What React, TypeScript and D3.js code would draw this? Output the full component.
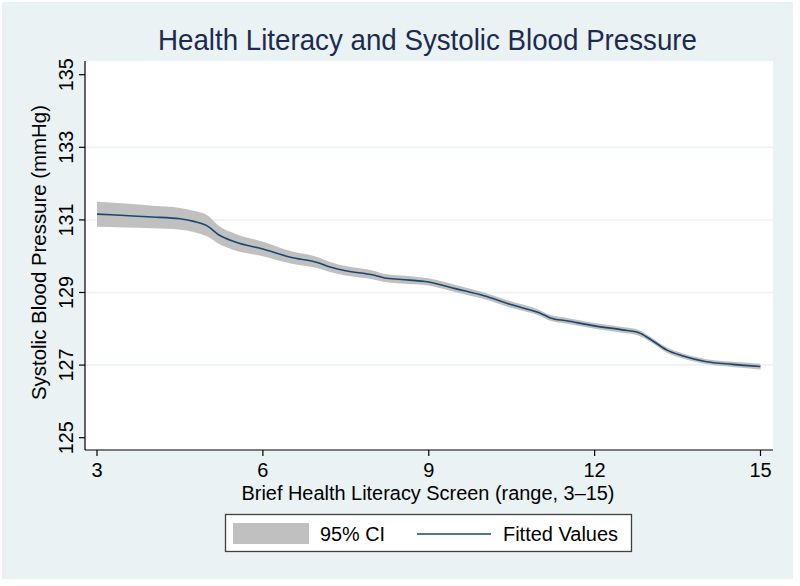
import React from "react";
import * as d3 from "d3";

const bhls = [3, 3.5, 4, 4.5, 4.75, 5, 5.2, 5.5, 6, 6.5, 7, 7.2, 7.5, 8, 8.2, 8.5, 9, 9.5, 10, 10.5, 11, 11.2, 11.5, 12, 12.5, 12.8, 13, 13.3, 13.6, 14, 14.5, 15];
const fitted = [131.16, 131.12, 131.08, 131.03, 130.96, 130.83, 130.59, 130.39, 130.2, 129.97, 129.82, 129.71, 129.6, 129.48, 129.4, 129.36, 129.29, 129.1, 128.91, 128.66, 128.44, 128.3, 128.22, 128.08, 127.97, 127.89, 127.72, 127.42, 127.25, 127.1, 127.02, 126.96];
const ciLower = [130.81, 130.79, 130.77, 130.73, 130.67, 130.54, 130.34, 130.16, 130.0, 129.8, 129.67, 129.57, 129.47, 129.36, 129.29, 129.25, 129.19, 129.0, 128.82, 128.57, 128.36, 128.22, 128.14, 128.0, 127.89, 127.81, 127.65, 127.35, 127.18, 127.03, 126.95, 126.88];
const ciUpper = [131.5, 131.45, 131.39, 131.33, 131.25, 131.12, 130.84, 130.62, 130.4, 130.14, 129.97, 129.85, 129.73, 129.6, 129.51, 129.47, 129.39, 129.2, 129.0, 128.75, 128.52, 128.38, 128.3, 128.16, 128.05, 127.97, 127.79, 127.49, 127.32, 127.17, 127.09, 127.04];
const xTicks = [3, 6, 9, 12, 15];
const yTicks = [125, 127, 129, 131, 133, 135];
const gridTicks = [127, 129, 131, 133];

const titleText = "Health Literacy and Systolic Blood Pressure";
const xTitle = "Brief Health Literacy Screen (range, 3\u201315)";
const yTitle = "Systolic Blood Pressure (mmHg)";
const legendLabels = ["95% CI", "Fitted Values"];

const BG = "#eaf2f3";
const NAVY = "#1a476f";
const BAND = "#c0c0c0";
const FONT = "'Liberation Sans', Arial, Helvetica, sans-serif";

export default function App() {
  const W = 800, H = 586;
  const left = 85, right = 773, top = 61, bottom = 450;
  const x = d3.scaleLinear().domain([3, 15]).range([97, 760.5]);
  const y = d3.scaleLinear().domain([125, 135]).range([437.7, 74.7]);

  const rows = bhls.map((v, i) => ({ x: v, f: fitted[i], lo: ciLower[i], hi: ciUpper[i] }));
  const area = d3.area<any>().x((d) => x(d.x)).y0((d) => y(d.lo)).y1((d) => y(d.hi)).curve(d3.curveMonotoneX);
  const line = d3.line<any>().x((d) => x(d.x)).y((d) => y(d.f)).curve(d3.curveMonotoneX);

  return (
    <svg width={W} height={H} style={{ display: "block", position: "absolute", left: 0, top: 0 }} fontFamily={FONT}>
      <rect x={0} y={0} width={W} height={H} fill="#ffffff" />
      <rect x={2} y={2} width={791} height={577} fill={BG} />
      <rect x={left} y={top} width={right - left} height={bottom - top} fill="#ffffff" />
      {gridTicks.map((t) => (
        <line key={t} x1={left} x2={right} y1={y(t)} y2={y(t)} stroke={BG} strokeWidth={1.5} />
      ))}
      <path d={area(rows) || ""} fill={BAND} stroke="none" />
      <path d={line(rows) || ""} fill="none" stroke={NAVY} strokeWidth={1.6} />
      {/* axes */}
      <line x1={left} x2={left} y1={top} y2={bottom} stroke="#000" strokeWidth={1.2} />
      <line x1={left} x2={right} y1={bottom} y2={bottom} stroke="#000" strokeWidth={1.2} />
      {yTicks.map((t) => (
        <g key={t}>
          <line x1={left - 6} x2={left} y1={y(t)} y2={y(t)} stroke="#000" strokeWidth={1.2} />
          <text transform={`translate(${73},${y(t)}) rotate(-90)`} textAnchor="middle" fontSize={20} fill="#000" textLength={33} lengthAdjust="spacingAndGlyphs">{t}</text>
        </g>
      ))}
      {xTicks.map((t) => (
        <g key={t}>
          <line x1={x(t)} x2={x(t)} y1={bottom} y2={bottom + 6} stroke="#000" strokeWidth={1.2} />
          <text x={x(t)} y={477} textAnchor="middle" fontSize={20} fill="#000">{t}</text>
        </g>
      ))}
      <text x={427.5} y={50} textAnchor="middle" fontSize={29} fill="#1c2b4f" textLength={539} lengthAdjust="spacingAndGlyphs">{titleText}</text>
      <text x={428} y={500} textAnchor="middle" fontSize={20} fill="#000" textLength={373} lengthAdjust="spacingAndGlyphs">{xTitle}</text>
      <text transform={`translate(${46},${252.5}) rotate(-90)`} textAnchor="middle" fontSize={20} fill="#000" textLength={295} lengthAdjust="spacingAndGlyphs">{yTitle}</text>
      {/* legend */}
      <rect x={225.5} y={514.5} width={406} height={37} fill="#ffffff" stroke="#404040" strokeWidth={1.3} />
      <rect x={233} y={523} width={76} height={21} fill={BAND} />
      <text x={320} y={541} fontSize={20} fill="#000" textLength={65} lengthAdjust="spacingAndGlyphs">{legendLabels[0]}</text>
      <line x1={417} x2={491} y1={534} y2={534} stroke={NAVY} strokeWidth={1.6} />
      <text x={503} y={541} fontSize={20} fill="#000" textLength={115} lengthAdjust="spacingAndGlyphs">{legendLabels[1]}</text>
    </svg>
  );
}
